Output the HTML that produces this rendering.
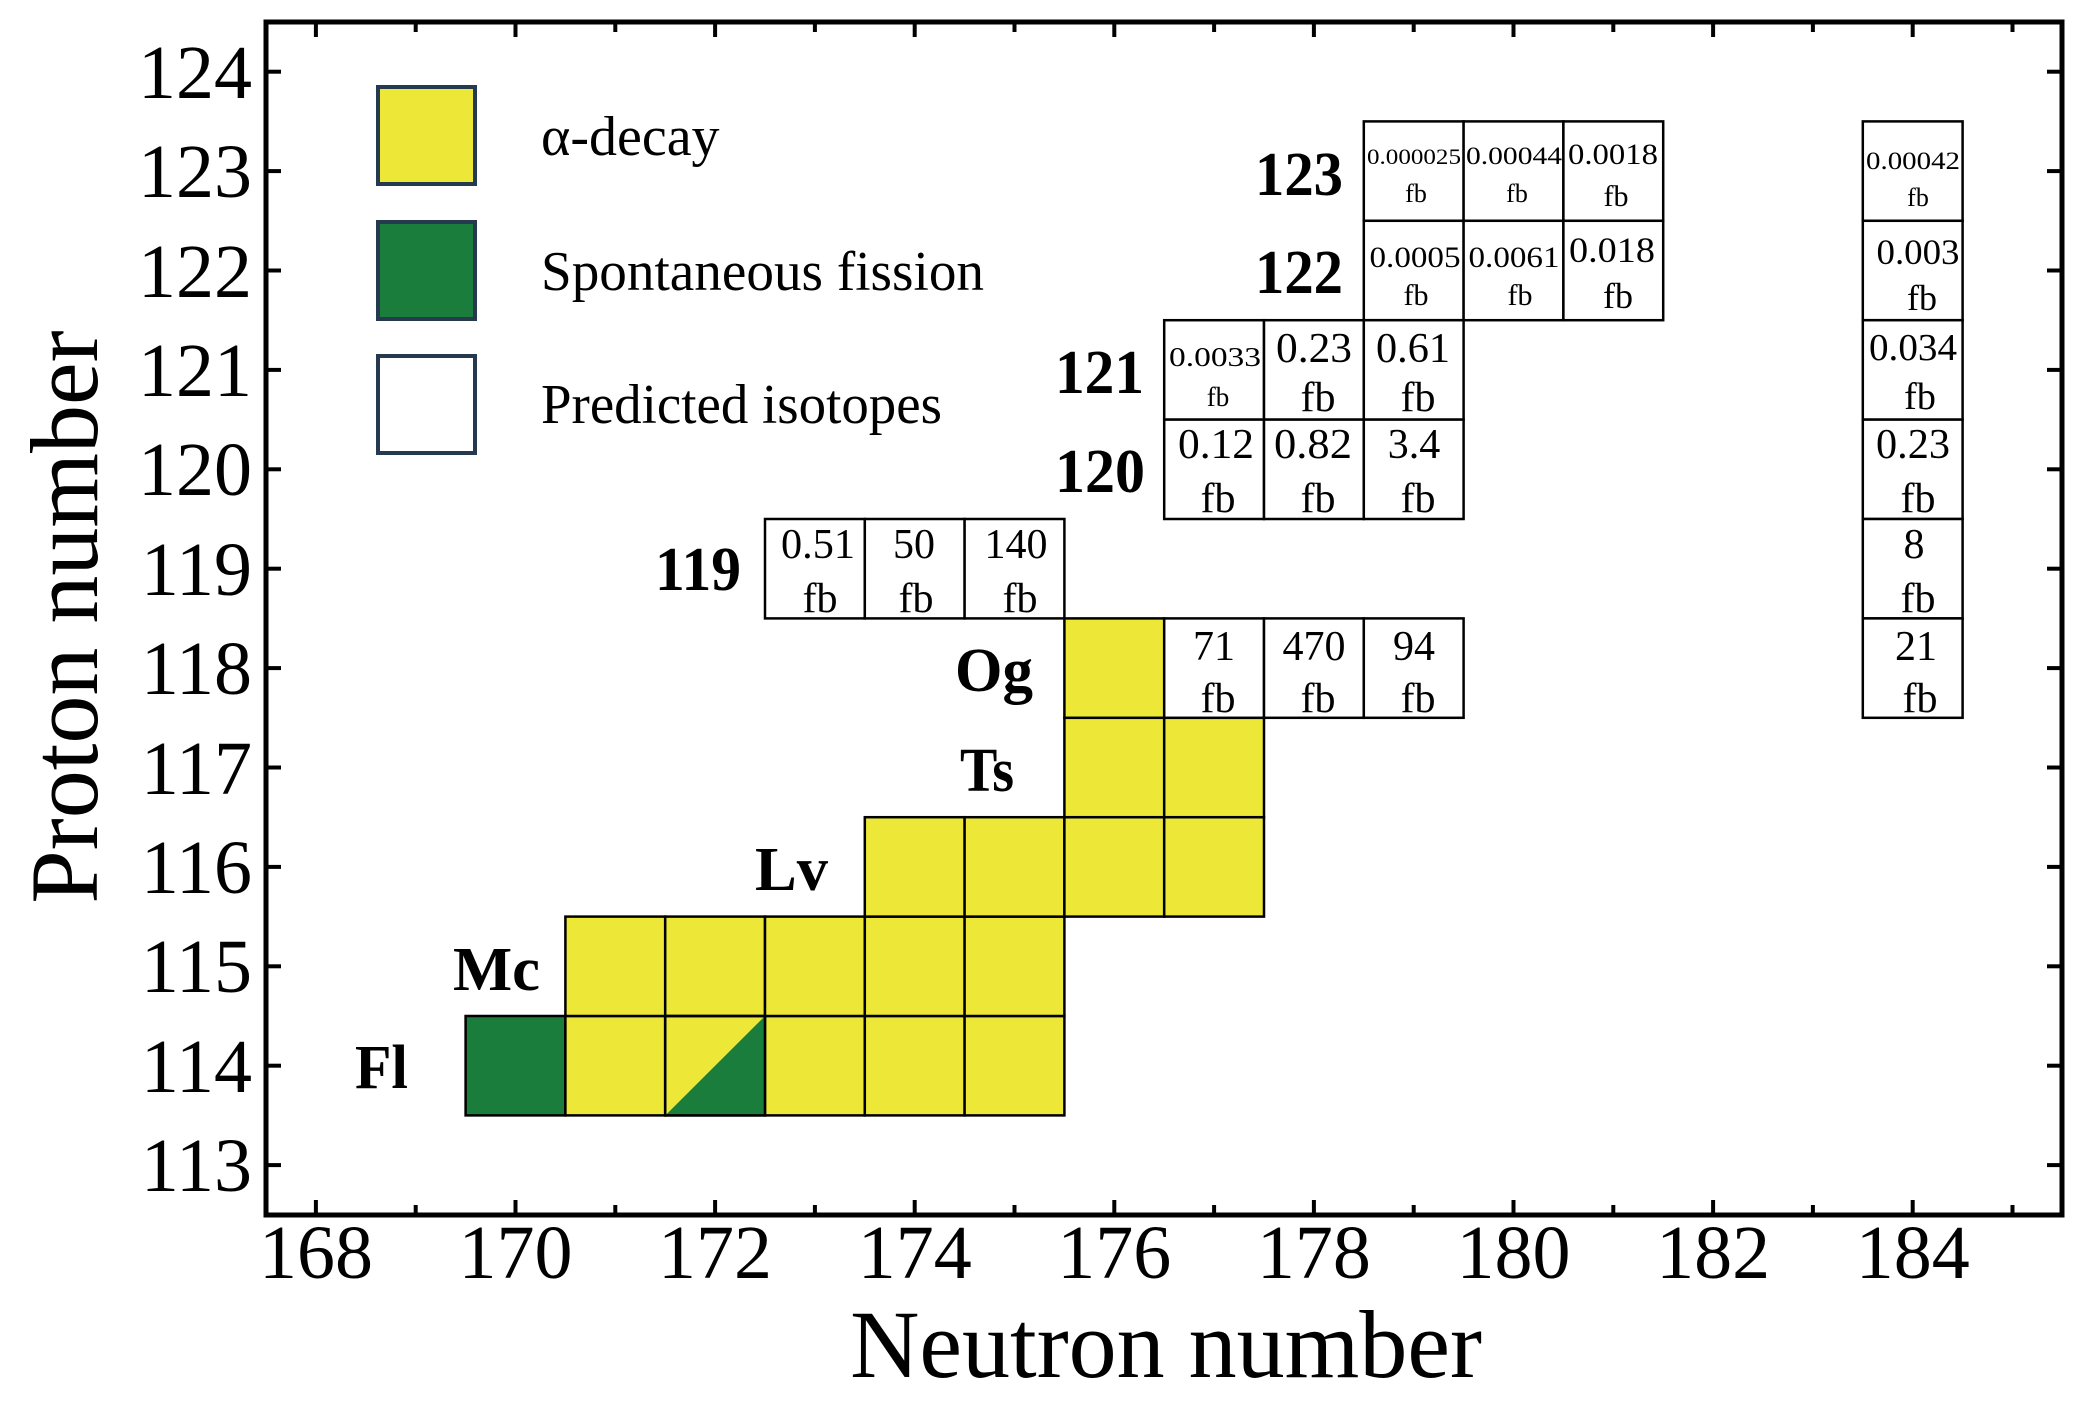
<!DOCTYPE html>
<html>
<head>
<meta charset="utf-8">
<style>
  html, body { margin:0; padding:0; background:#ffffff; }
  body { width:2091px; height:1416px; overflow:hidden; }
  svg { display:block; }
  text { font-family: "Liberation Serif", "DejaVu Serif", serif; fill:#000; }
  .b { font-weight:bold; }
</style>
</head>
<body>
<svg width="2091" height="1416" viewBox="0 0 2091 1416" xmlns="http://www.w3.org/2000/svg">
  <rect x="0" y="0" width="2091" height="1416" fill="#ffffff"/>

  <!-- Legend -->
  <rect x="378" y="87" width="97" height="97" fill="#ede837" stroke="#253a4f" stroke-width="4"/>
  <rect x="378" y="222" width="97" height="97" fill="#1a7d3c" stroke="#253a4f" stroke-width="4"/>
  <rect x="378" y="356" width="97" height="97" fill="#ffffff" stroke="#253a4f" stroke-width="4"/>
  <text x="541" y="155" font-size="56">α-decay</text>
  <text x="541" y="290" font-size="56" textLength="443" lengthAdjust="spacingAndGlyphs">Spontaneous fission</text>
  <text x="541" y="423" font-size="56" textLength="401" lengthAdjust="spacingAndGlyphs">Predicted isotopes</text>

  <!-- Yellow / green cells -->
  <g stroke="#000" stroke-width="2.5">
    <rect x="465.6" y="1016.0" width="99.8" height="99.4" fill="#1a7d3c"/>
    <rect x="565.4" y="1016.0" width="99.8" height="99.4" fill="#ede837"/>
    <rect x="665.2" y="1016.0" width="99.8" height="99.4" fill="#ede837"/>
    <rect x="765.0" y="1016.0" width="99.8" height="99.4" fill="#ede837"/>
    <rect x="864.8" y="1016.0" width="99.8" height="99.4" fill="#ede837"/>
    <rect x="964.6" y="1016.0" width="99.8" height="99.4" fill="#ede837"/>
    <rect x="565.4" y="916.6" width="99.8" height="99.4" fill="#ede837"/>
    <rect x="665.2" y="916.6" width="99.8" height="99.4" fill="#ede837"/>
    <rect x="765.0" y="916.6" width="99.8" height="99.4" fill="#ede837"/>
    <rect x="864.8" y="916.6" width="99.8" height="99.4" fill="#ede837"/>
    <rect x="964.6" y="916.6" width="99.8" height="99.4" fill="#ede837"/>
    <rect x="864.8" y="817.2" width="99.8" height="99.4" fill="#ede837"/>
    <rect x="964.6" y="817.2" width="99.8" height="99.4" fill="#ede837"/>
    <rect x="1064.4" y="817.2" width="99.8" height="99.4" fill="#ede837"/>
    <rect x="1164.2" y="817.2" width="99.8" height="99.4" fill="#ede837"/>
    <rect x="1064.4" y="717.8" width="99.8" height="99.4" fill="#ede837"/>
    <rect x="1164.2" y="717.8" width="99.8" height="99.4" fill="#ede837"/>
    <rect x="1064.4" y="618.4" width="99.8" height="99.4" fill="#ede837"/>
  </g>
  <polygon points="666.5,1114.2 763.8,1017.2 763.8,1114.2" fill="#1a7d3c"/>
  <rect x="665.2" y="1016.0" width="99.8" height="99.4" fill="none" stroke="#000" stroke-width="2.5"/>

  <!-- White predicted cells -->
  <g stroke="#000" stroke-width="2.5" fill="#ffffff">
    <rect x="1363.8" y="121.4" width="99.8" height="99.4"/>
    <rect x="1463.6" y="121.4" width="99.8" height="99.4"/>
    <rect x="1563.4" y="121.4" width="99.8" height="99.4"/>
    <rect x="1862.8" y="121.4" width="99.8" height="99.4"/>
    <rect x="1363.8" y="220.8" width="99.8" height="99.4"/>
    <rect x="1463.6" y="220.8" width="99.8" height="99.4"/>
    <rect x="1563.4" y="220.8" width="99.8" height="99.4"/>
    <rect x="1862.8" y="220.8" width="99.8" height="99.4"/>
    <rect x="1164.2" y="320.2" width="99.8" height="99.4"/>
    <rect x="1264.0" y="320.2" width="99.8" height="99.4"/>
    <rect x="1363.8" y="320.2" width="99.8" height="99.4"/>
    <rect x="1862.8" y="320.2" width="99.8" height="99.4"/>
    <rect x="1164.2" y="419.6" width="99.8" height="99.4"/>
    <rect x="1264.0" y="419.6" width="99.8" height="99.4"/>
    <rect x="1363.8" y="419.6" width="99.8" height="99.4"/>
    <rect x="1862.8" y="419.6" width="99.8" height="99.4"/>
    <rect x="765.0" y="519.0" width="99.8" height="99.4"/>
    <rect x="864.8" y="519.0" width="99.8" height="99.4"/>
    <rect x="964.6" y="519.0" width="99.8" height="99.4"/>
    <rect x="1862.8" y="519.0" width="99.8" height="99.4"/>
    <rect x="1164.2" y="618.4" width="99.8" height="99.4"/>
    <rect x="1264.0" y="618.4" width="99.8" height="99.4"/>
    <rect x="1363.8" y="618.4" width="99.8" height="99.4"/>
    <rect x="1862.8" y="618.4" width="99.8" height="99.4"/>
  </g>

  <!-- Cell texts -->
  <g text-anchor="middle">
    <text x="1414" y="164" font-size="22" textLength="94" lengthAdjust="spacingAndGlyphs">0.000025</text>
    <text x="1416" y="202" font-size="26">fb</text>
    <text x="1514" y="164" font-size="25" textLength="96" lengthAdjust="spacingAndGlyphs">0.00044</text>
    <text x="1517" y="202" font-size="26">fb</text>
    <text x="1613" y="164" font-size="30" textLength="90" lengthAdjust="spacingAndGlyphs">0.0018</text>
    <text x="1616" y="206" font-size="30">fb</text>
    <text x="1913" y="169" font-size="25" textLength="94" lengthAdjust="spacingAndGlyphs">0.00042</text>
    <text x="1918" y="206" font-size="26">fb</text>
    <text x="1415" y="267" font-size="30" textLength="91" lengthAdjust="spacingAndGlyphs">0.0005</text>
    <text x="1416" y="305" font-size="30">fb</text>
    <text x="1514" y="267" font-size="30" textLength="91" lengthAdjust="spacingAndGlyphs">0.0061</text>
    <text x="1520" y="305" font-size="30">fb</text>
    <text x="1612" y="262" font-size="36" textLength="86" lengthAdjust="spacingAndGlyphs">0.018</text>
    <text x="1618" y="308" font-size="36">fb</text>
    <text x="1918" y="264" font-size="36" textLength="83" lengthAdjust="spacingAndGlyphs">0.003</text>
    <text x="1922" y="310" font-size="36">fb</text>
    <text x="1215" y="366" font-size="27" textLength="92" lengthAdjust="spacingAndGlyphs">0.0033</text>
    <text x="1218" y="406" font-size="27">fb</text>
    <text x="1314" y="362" font-size="42" textLength="76" lengthAdjust="spacingAndGlyphs">0.23</text>
    <text x="1318" y="411" font-size="42">fb</text>
    <text x="1413" y="362" font-size="42" textLength="74" lengthAdjust="spacingAndGlyphs">0.61</text>
    <text x="1418" y="411" font-size="42">fb</text>
    <text x="1913" y="360" font-size="38" textLength="88" lengthAdjust="spacingAndGlyphs">0.034</text>
    <text x="1920" y="409" font-size="38">fb</text>
    <text x="1216" y="458" font-size="42" textLength="76" lengthAdjust="spacingAndGlyphs">0.12</text>
    <text x="1218" y="512" font-size="42">fb</text>
    <text x="1313" y="458" font-size="42" textLength="78" lengthAdjust="spacingAndGlyphs">0.82</text>
    <text x="1318" y="512" font-size="42">fb</text>
    <text x="1414" y="458" font-size="42">3.4</text>
    <text x="1418" y="512" font-size="42">fb</text>
    <text x="1913" y="458" font-size="42" textLength="74" lengthAdjust="spacingAndGlyphs">0.23</text>
    <text x="1918" y="512" font-size="42">fb</text>
    <text x="818" y="558" font-size="42" textLength="74" lengthAdjust="spacingAndGlyphs">0.51</text>
    <text x="820" y="612" font-size="42">fb</text>
    <text x="914" y="558" font-size="42">50</text>
    <text x="916" y="612" font-size="42">fb</text>
    <text x="1016" y="558" font-size="42">140</text>
    <text x="1020" y="612" font-size="42">fb</text>
    <text x="1914" y="558" font-size="42">8</text>
    <text x="1918" y="612" font-size="42">fb</text>
    <text x="1214" y="660" font-size="42">71</text>
    <text x="1218" y="712" font-size="42">fb</text>
    <text x="1314" y="660" font-size="42">470</text>
    <text x="1318" y="712" font-size="42">fb</text>
    <text x="1414" y="660" font-size="42">94</text>
    <text x="1418" y="712" font-size="42">fb</text>
    <text x="1916" y="660" font-size="42">21</text>
    <text x="1920" y="712" font-size="42">fb</text>
  </g>

  <!-- Element / Z labels (bold) -->
  <g class="b" font-size="62" font-weight="bold">
    <text x="1255" y="195" textLength="88" lengthAdjust="spacingAndGlyphs">123</text>
    <text x="1255" y="293" textLength="88" lengthAdjust="spacingAndGlyphs">122</text>
    <text x="1055" y="393" textLength="89" lengthAdjust="spacingAndGlyphs">121</text>
    <text x="1055" y="492" textLength="90" lengthAdjust="spacingAndGlyphs">120</text>
    <text x="655" y="590" textLength="86" lengthAdjust="spacingAndGlyphs">119</text>
    <text x="955" y="691" textLength="78" lengthAdjust="spacingAndGlyphs">Og</text>
    <text x="960" y="791" textLength="54" lengthAdjust="spacingAndGlyphs">Ts</text>
    <text x="755" y="890" textLength="73" lengthAdjust="spacingAndGlyphs">Lv</text>
    <text x="453" y="990" textLength="87" lengthAdjust="spacingAndGlyphs">Mc</text>
    <text x="355" y="1088" textLength="53" lengthAdjust="spacingAndGlyphs">Fl</text>
  </g>

  <!-- Ticks -->
  <g stroke="#000" stroke-width="4">
    <line x1="315.9" y1="1215" x2="315.9" y2="1200"/><line x1="315.9" y1="22" x2="315.9" y2="37"/>
    <line x1="415.7" y1="1215" x2="415.7" y2="1205"/><line x1="415.7" y1="22" x2="415.7" y2="32"/>
    <line x1="515.5" y1="1215" x2="515.5" y2="1200"/><line x1="515.5" y1="22" x2="515.5" y2="37"/>
    <line x1="615.3" y1="1215" x2="615.3" y2="1205"/><line x1="615.3" y1="22" x2="615.3" y2="32"/>
    <line x1="715.1" y1="1215" x2="715.1" y2="1200"/><line x1="715.1" y1="22" x2="715.1" y2="37"/>
    <line x1="814.9" y1="1215" x2="814.9" y2="1205"/><line x1="814.9" y1="22" x2="814.9" y2="32"/>
    <line x1="914.7" y1="1215" x2="914.7" y2="1200"/><line x1="914.7" y1="22" x2="914.7" y2="37"/>
    <line x1="1014.5" y1="1215" x2="1014.5" y2="1205"/><line x1="1014.5" y1="22" x2="1014.5" y2="32"/>
    <line x1="1114.3" y1="1215" x2="1114.3" y2="1200"/><line x1="1114.3" y1="22" x2="1114.3" y2="37"/>
    <line x1="1214.1" y1="1215" x2="1214.1" y2="1205"/><line x1="1214.1" y1="22" x2="1214.1" y2="32"/>
    <line x1="1313.9" y1="1215" x2="1313.9" y2="1200"/><line x1="1313.9" y1="22" x2="1313.9" y2="37"/>
    <line x1="1413.7" y1="1215" x2="1413.7" y2="1205"/><line x1="1413.7" y1="22" x2="1413.7" y2="32"/>
    <line x1="1513.5" y1="1215" x2="1513.5" y2="1200"/><line x1="1513.5" y1="22" x2="1513.5" y2="37"/>
    <line x1="1613.3" y1="1215" x2="1613.3" y2="1205"/><line x1="1613.3" y1="22" x2="1613.3" y2="32"/>
    <line x1="1713.1" y1="1215" x2="1713.1" y2="1200"/><line x1="1713.1" y1="22" x2="1713.1" y2="37"/>
    <line x1="1812.9" y1="1215" x2="1812.9" y2="1205"/><line x1="1812.9" y1="22" x2="1812.9" y2="32"/>
    <line x1="1912.7" y1="1215" x2="1912.7" y2="1200"/><line x1="1912.7" y1="22" x2="1912.7" y2="37"/>
    <line x1="2012.5" y1="1215" x2="2012.5" y2="1205"/><line x1="2012.5" y1="22" x2="2012.5" y2="32"/>
    <line x1="266" y1="71.7" x2="281" y2="71.7"/><line x1="2062" y1="71.7" x2="2047" y2="71.7"/>
    <line x1="266" y1="171.1" x2="281" y2="171.1"/><line x1="2062" y1="171.1" x2="2047" y2="171.1"/>
    <line x1="266" y1="270.5" x2="281" y2="270.5"/><line x1="2062" y1="270.5" x2="2047" y2="270.5"/>
    <line x1="266" y1="369.9" x2="281" y2="369.9"/><line x1="2062" y1="369.9" x2="2047" y2="369.9"/>
    <line x1="266" y1="469.3" x2="281" y2="469.3"/><line x1="2062" y1="469.3" x2="2047" y2="469.3"/>
    <line x1="266" y1="568.7" x2="281" y2="568.7"/><line x1="2062" y1="568.7" x2="2047" y2="568.7"/>
    <line x1="266" y1="668.1" x2="281" y2="668.1"/><line x1="2062" y1="668.1" x2="2047" y2="668.1"/>
    <line x1="266" y1="767.5" x2="281" y2="767.5"/><line x1="2062" y1="767.5" x2="2047" y2="767.5"/>
    <line x1="266" y1="866.9" x2="281" y2="866.9"/><line x1="2062" y1="866.9" x2="2047" y2="866.9"/>
    <line x1="266" y1="966.3" x2="281" y2="966.3"/><line x1="2062" y1="966.3" x2="2047" y2="966.3"/>
    <line x1="266" y1="1065.7" x2="281" y2="1065.7"/><line x1="2062" y1="1065.7" x2="2047" y2="1065.7"/>
    <line x1="266" y1="1165.1" x2="281" y2="1165.1"/><line x1="2062" y1="1165.1" x2="2047" y2="1165.1"/>
  </g>

  <!-- Frame -->
  <rect x="266" y="22" width="1796" height="1193" fill="none" stroke="#000" stroke-width="5"/>

  <!-- Y tick labels -->
  <g font-size="76" text-anchor="end">
    <text x="252" y="98">124</text>
    <text x="252" y="197">123</text>
    <text x="252" y="297">122</text>
    <text x="252" y="396">121</text>
    <text x="252" y="495">120</text>
    <text x="252" y="595">119</text>
    <text x="252" y="694">118</text>
    <text x="252" y="794">117</text>
    <text x="252" y="893">116</text>
    <text x="252" y="992">115</text>
    <text x="252" y="1092">114</text>
    <text x="252" y="1191">113</text>
  </g>

  <!-- X tick labels -->
  <g font-size="76" text-anchor="middle">
    <text x="316" y="1278">168</text>
    <text x="515.5" y="1278">170</text>
    <text x="715" y="1278">172</text>
    <text x="914.7" y="1278">174</text>
    <text x="1114.3" y="1278">176</text>
    <text x="1313.9" y="1278">178</text>
    <text x="1513.5" y="1278">180</text>
    <text x="1713.1" y="1278">182</text>
    <text x="1912.7" y="1278">184</text>
  </g>

  <!-- Axis titles -->
  <text x="1166" y="1377" font-size="96" text-anchor="middle">Neutron number</text>
  <text transform="translate(97,617) rotate(-90)" font-size="96" text-anchor="middle">Proton number</text>
</svg>
</body>
</html>
